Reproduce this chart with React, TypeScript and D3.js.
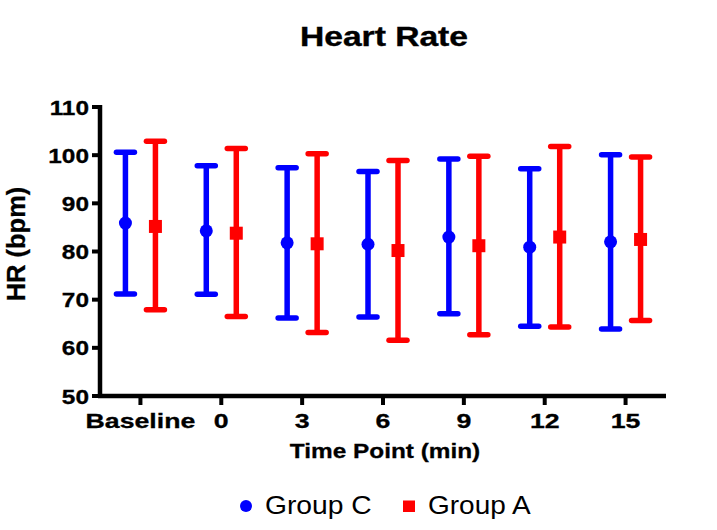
import React from "react";
import * as d3 from "d3";

const categories = ["Baseline", "0", "3", "6", "9", "12", "15"];
const groups = ["Group C", "Group A"];
const colors = ["#0000ff", "#ff0000"];

const groupCMean = [85.9, 84.3, 81.8, 81.5, 83.0, 80.9, 82.0];
const groupCUpper = [100.6, 97.8, 97.4, 96.6, 99.2, 97.2, 100.1];
const groupCLower = [71.2, 71.1, 66.2, 66.4, 67.1, 64.5, 63.9];

const groupAMean = [85.2, 83.8, 81.6, 80.2, 81.2, 83.0, 82.5];
const groupAUpper = [102.9, 101.4, 100.3, 98.9, 99.8, 101.8, 99.6];
const groupALower = [67.9, 66.5, 63.2, 61.6, 62.7, 64.3, 65.7];

const yTicks = [50, 60, 70, 80, 90, 100, 110];

const W = 717;
const H = 530;
const FONT = "'Liberation Sans', Arial, Helvetica, sans-serif";

export default function App() {
  const x = d3.scaleBand<string>().domain(categories).range([100, 666]).padding(0);
  const off = d3.scalePoint<string>().domain(groups).range([-15, 15]);
  const y = d3.scaleLinear().domain([50, 110]).range([396, 107]);

  const series = [
    { name: groups[0], mean: groupCMean, up: groupCUpper, lo: groupCLower, color: colors[0] },
    { name: groups[1], mean: groupAMean, up: groupAUpper, lo: groupALower, color: colors[1] },
  ];

  const cx = (c: string) => (x(c) as number) + x.bandwidth() / 2;
  const sym = d3.symbol();

  return (
    <svg
      width={W}
      height={H}
      style={{ position: "absolute", left: 0, top: 0, background: "#fff" }}
      fontFamily={FONT}
    >
      <rect x={0} y={0} width={W} height={H} fill="#fff" />
      {/* Title */}
      <text
        transform={`translate(384,46) scale(1.2,1)`}
        textAnchor="middle"
        fontSize={28}
        fontWeight="bold"
        fill="#000"
        stroke="#000"
        strokeWidth={0.4}
      >
        Heart Rate
      </text>

      {/* error bars */}
      {series.map((s, si) =>
        categories.map((c, i) => {
          const px = cx(c) + (off(s.name) as number);
          const capW = 9;
          return (
            <g key={`${si}-${i}`} stroke={s.color} strokeWidth={5.5} strokeLinecap="round">
              <line x1={px} x2={px} y1={y(s.up[i])} y2={y(s.lo[i])} strokeLinecap="butt" />
              <line x1={px - capW} x2={px + capW} y1={y(s.up[i])} y2={y(s.up[i])} />
              <line x1={px - capW} x2={px + capW} y1={y(s.lo[i])} y2={y(s.lo[i])} />
              <path
                d={
                  si === 0
                    ? (sym.type(d3.symbolCircle).size(Math.PI * 6.5 * 6.5)() as string)
                    : (sym.type(d3.symbolSquare).size(13 * 13)() as string)
                }
                transform={`translate(${px},${y(s.mean[i])})`}
                fill={s.color}
                stroke="none"
              />
            </g>
          );
        })
      )}

      {/* Y axis */}
      <line x1={100} x2={100} y1={y(110) - 2} y2={398} stroke="#000" strokeWidth={4.5} />
      {yTicks.map((t) => (
        <g key={t}>
          <line x1={92} x2={100} y1={y(t)} y2={y(t)} stroke="#000" strokeWidth={4} />
          <text
            transform={`translate(89,${y(t) + 7.5}) scale(1.22,1)`}
            textAnchor="end"
            fontSize={20}
            fontWeight="bold"
            fill="#000"
            stroke="#000"
            strokeWidth={0.3}
          >
            {t}
          </text>
        </g>
      ))}

      {/* X axis */}
      <line x1={98} x2={666} y1={396} y2={396} stroke="#000" strokeWidth={4.5} />
      {categories.map((c) => (
        <g key={c}>
          <line x1={cx(c)} x2={cx(c)} y1={396} y2={405} stroke="#000" strokeWidth={4} />
          <text
            transform={`translate(${cx(c)},428) scale(1.27,1)`}
            textAnchor="middle"
            fontSize={21}
            fontWeight="bold"
            fill="#000"
            stroke="#000"
            strokeWidth={0.3}
          >
            {c}
          </text>
        </g>
      ))}

      {/* Axis titles */}
      <text
        transform={`translate(385,458) scale(1.16,1)`}
        textAnchor="middle"
        fontSize={21}
        fontWeight="bold"
        fill="#000"
        stroke="#000"
        strokeWidth={0.3}
      >
        Time Point (min)
      </text>
      <text
        transform={`translate(25,244) rotate(-90)`}
        textAnchor="middle"
        fontSize={25.5}
        fontWeight="bold"
        fill="#000"
        stroke="#000"
        strokeWidth={0.3}
      >
        HR (bpm)
      </text>

      {/* Legend */}
      <circle cx={246} cy={506} r={6} fill={colors[0]} />
      <text transform={`translate(265,514) scale(1.13,1)`} fontSize={25} fill="#000">
        {groups[0]}
      </text>
      <rect x={403} y={500.5} width={12} height={11.5} fill={colors[1]} />
      <text transform={`translate(428,514) scale(1.12,1)`} fontSize={25} fill="#000">
        {groups[1]}
      </text>
    </svg>
  );
}
